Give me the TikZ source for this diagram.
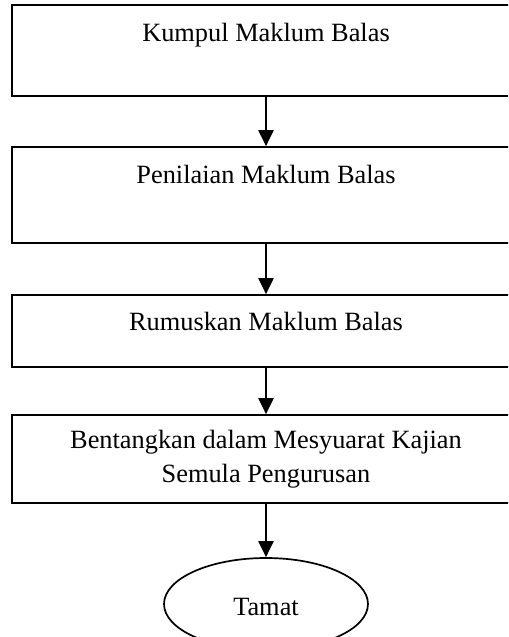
\documentclass[tikz,border=0pt]{standalone}
\usepackage{fontspec}
\setmainfont{Liberation Serif}
\usetikzlibrary{arrows.meta,shapes.geometric}

\begin{document}
\begin{tikzpicture}[x=0.2mm,y=-0.2mm,>={Triangle[width=3mm,length=3.2mm]},
  box/.style={draw,line width=0.34mm,minimum width=101.6mm,inner sep=0pt},
  txt/.style={font=\fontsize{15}{19.3}\selectfont,inner sep=0pt,anchor=base,align=center},
  flow/.style={->,line width=0.42mm}]
  \useasboundingbox (0,0) rectangle (508,637);
  \clip (0,0) rectangle (508,637);

  \node[box,minimum height=18.2mm] (kumpul) at (266,50.5) {};
  \node[box,minimum height=19.2mm] (nilai) at (266,195) {};
  \node[box,minimum height=14.4mm] (rumus) at (266,331) {};
  \node[box,minimum height=17.6mm] (bentang) at (266,459) {};
  \node[draw,ellipse,line width=0.34mm,minimum width=40.8mm,minimum height=18.4mm,inner sep=0pt] (tamat) at (266,604) {};

  \node[txt] (tkumpul) at (266,41.7) {Kumpul Maklum Balas};
  \node[txt] (tnilai) at (266,183.3) {Penilaian Maklum Balas};
  \node[txt] (trumus) at (266,330) {Rumuskan Maklum Balas};
  % base of a two line node is the last line
  \node[txt] (tbentang) at (266,482) {Bentangkan dalam Mesyuarat Kajian\\Semula Pengurusan};
  \node[txt] (ttamat) at (266,615) {Tamat};

  \draw[flow] (kumpul) -- (nilai);
  \draw[flow] (nilai) -- (rumus);
  \draw[flow] (rumus) -- (bentang);
  \draw[flow] (bentang) -- (tamat);
\end{tikzpicture}
\end{document}
